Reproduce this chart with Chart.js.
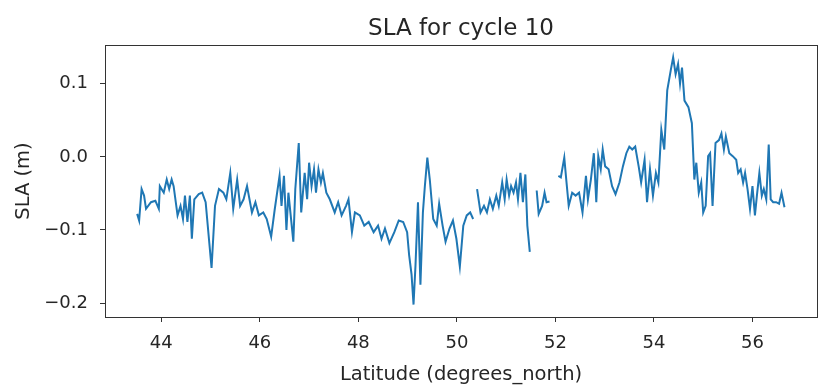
<!DOCTYPE html>
<html>
<head>
<meta charset="utf-8">
<script src="https://cdn.jsdelivr.net/npm/chart.js@4.4.1/dist/chart.umd.min.js"></script>
<style>
html,body{margin:0;padding:0;background:#fff;}
#wrap{width:820px;height:385px;position:relative;}
</style>
</head>
<body>
<div id="wrap"><canvas id="c" width="820" height="385"></canvas></div>
<script>
const titleText = "SLA for cycle 10";
const xLabel = "Latitude (degrees_north)";
const yLabel = "SLA (m)";
const xTicks = [44, 46, 48, 50, 52, 54, 56];
const yTicks = [-0.2, -0.1, 0.0, 0.1];

const lat = [
43.51,43.55,43.60,43.65,43.69,43.79,43.88,43.95,43.97,44.05,44.11,44.16,44.21,44.25,44.33,44.39,44.44,44.48,44.53,44.58,
44.62,44.67,44.76,44.83,44.90,45.02,45.09,45.17,45.26,45.32,45.40,45.46,45.54,45.60,45.67,45.74,45.84,45.91,45.98,46.07,
46.14,46.23,46.30,46.40,46.44,46.49,46.54,46.58,46.68,46.72,46.79,46.84,46.91,46.96,47.00,47.05,47.10,47.14,47.19,47.24,
47.28,47.35,47.42,47.52,47.59,47.66,47.75,47.80,47.87,47.93,48.03,48.12,48.21,48.31,48.40,48.47,48.54,48.63,48.73,48.82,
48.91,48.99,49.03,49.08,49.12,49.16,49.21,49.26,49.31,49.35,49.40,49.45,49.52,49.59,49.64,49.71,49.77,49.85,49.92,49.99,
50.06,50.13,50.20,50.27,50.33,
50.37,
50.41,50.48,50.55,50.61,50.67,50.73,50.80,50.85,50.92,50.97,51.01,51.06,51.10,51.15,51.20,51.24,51.29,51.34,51.39,51.43,51.48,
51.55,
51.62,51.66,51.73,51.78,51.82,51.88,
51.97,
52.06,52.11,52.18,52.22,52.27,52.34,52.41,52.48,52.55,52.62,52.66,52.72,52.78,52.83,52.87,52.92,52.96,53.01,53.08,53.15,
53.22,53.30,53.37,53.44,53.50,53.56,53.62,53.69,53.74,53.81,53.86,53.92,53.98,54.04,54.09,54.15,54.21,54.27,54.34,54.39,
54.44,54.49,54.53,54.57,54.62,54.70,54.77,54.82,54.86,54.91,54.96,55.00,55.05,55.10,55.14,55.19,55.25,55.32,55.37,55.42,
55.46,55.53,55.60,55.67,55.71,55.76,55.81,55.85,55.90,55.95,56.00,56.05,56.09,56.14,56.19,56.23,56.28,56.33,56.37,56.42,
56.48,56.54,56.59,56.65
];

const sla = [
-0.078,-0.087,-0.044,-0.053,-0.071,-0.062,-0.060,-0.071,-0.040,-0.049,-0.031,-0.044,-0.031,-0.040,-0.080,-0.067,-0.085,-0.053,-0.089,-0.053,
-0.112,-0.058,-0.051,-0.049,-0.062,-0.152,-0.067,-0.044,-0.049,-0.058,-0.022,-0.071,-0.031,-0.067,-0.058,-0.040,-0.076,-0.062,-0.080,-0.076,
-0.085,-0.109,-0.073,-0.026,-0.067,-0.026,-0.100,-0.049,-0.116,-0.044,0.019,-0.076,-0.022,-0.058,-0.008,-0.040,-0.017,-0.049,-0.017,-0.035,
-0.022,-0.049,-0.058,-0.076,-0.062,-0.080,-0.067,-0.058,-0.103,-0.076,-0.080,-0.094,-0.089,-0.103,-0.094,-0.112,-0.098,-0.118,-0.103,-0.087,
-0.089,-0.103,-0.134,-0.161,-0.202,-0.148,-0.062,-0.175,-0.076,-0.040,-0.001,-0.031,-0.085,-0.094,-0.064,-0.094,-0.116,-0.098,-0.087,-0.112,
-0.150,-0.094,-0.080,-0.076,-0.085,
null,
-0.044,-0.076,-0.067,-0.076,-0.058,-0.071,-0.053,-0.067,-0.035,-0.058,-0.031,-0.053,-0.040,-0.049,-0.035,-0.058,-0.022,-0.062,-0.024,-0.094,-0.130,
null,
-0.046,-0.078,-0.067,-0.049,-0.062,-0.061,
null,
-0.026,-0.028,-0.001,-0.031,-0.067,-0.049,-0.053,-0.049,-0.076,-0.026,-0.058,-0.031,0.005,-0.062,0.001,-0.017,0.010,-0.013,-0.017,-0.040,
-0.051,-0.035,-0.013,0.005,0.014,0.010,0.014,-0.013,-0.035,-0.004,-0.062,-0.017,-0.053,-0.022,-0.035,0.037,0.010,0.091,0.118,0.136,
0.113,0.127,0.100,0.122,0.077,0.068,0.046,-0.031,-0.008,-0.049,-0.035,-0.076,-0.067,0.001,0.005,-0.067,0.019,0.023,0.032,0.010,
0.028,0.005,0.001,-0.004,-0.022,-0.017,-0.035,-0.022,-0.044,-0.071,-0.040,-0.080,-0.053,-0.022,-0.053,-0.044,-0.058,0.017,-0.058,-0.062,
-0.062,-0.064,-0.049,-0.069
];

const FONT = "'DejaVu Sans', sans-serif";
const TXT = '#262626';
const EDGE = '#333333';

const framePlugin = {
  id: 'frameTitle',
  afterDraw(chart) {
    const {ctx, chartArea: a} = chart;
    ctx.save();
    ctx.strokeStyle = EDGE;
    ctx.lineWidth = 1;
    ctx.strokeRect(Math.round(a.left) + 0.5, Math.round(a.top) + 0.5,
                   Math.round(a.right - a.left), Math.round(a.bottom - a.top));
    ctx.fillStyle = TXT;
    ctx.font = "23px " + FONT;
    ctx.textAlign = 'center';
    ctx.textBaseline = 'alphabetic';
    ctx.fillText(titleText, (a.left + a.right) / 2, 35);
    ctx.restore();
  }
};

new Chart(document.getElementById('c'), {
  type: 'line',
  data: {
    datasets: [{
      data: lat.map((x, i) => ({x: x, y: sla[i]})),
      borderColor: '#1f77b4',
      borderWidth: 2,
      pointRadius: 0,
      tension: 0,
      spanGaps: false,
      fill: false
    }]
  },
  options: {
    responsive: false,
    animation: false,
    layout: {padding: {top: 45, left: 0, right: 3, bottom: 0}},
    plugins: {legend: {display: false}, title: {display: false}, tooltip: {enabled: false}},
    scales: {
      x: {
        type: 'linear',
        min: 42.857,
        max: 57.31,
        afterFit(s) { s.height = 68; },
        afterBuildTicks(s) { s.ticks = xTicks.map(v => ({value: v})); },
        ticks: {
          includeBounds: false,
          color: TXT,
          font: {family: FONT, size: 18},
          padding: 11,
          maxRotation: 0,
          autoSkip: false,
          callback: v => String(v)
        },
        grid: {drawOnChartArea: false, drawTicks: true, tickLength: 5, color: EDGE},
        border: {display: true, color: EDGE},
        title: {display: true, text: xLabel, color: TXT, font: {family: FONT, size: 19.5}, padding: {top: 0, bottom: -2}}
      },
      y: {
        type: 'linear',
        min: -0.219,
        max: 0.153,
        afterFit(s) { s.width = 105; },
        afterBuildTicks(s) { s.ticks = yTicks.map(v => ({value: v})); },
        ticks: {
          includeBounds: false,
          color: TXT,
          font: {family: FONT, size: 18},
          padding: 12,
          autoSkip: false,
          callback: v => v.toFixed(1).replace('-', '\u2212')
        },
        grid: {drawOnChartArea: false, drawTicks: true, tickLength: 5, color: EDGE},
        border: {display: true, color: EDGE},
        title: {display: true, text: yLabel, color: TXT, font: {family: FONT, size: 19.5}, padding: {top: 12, bottom: 0}}
      }
    }
  },
  plugins: [framePlugin]
});
</script>
</body>
</html>
